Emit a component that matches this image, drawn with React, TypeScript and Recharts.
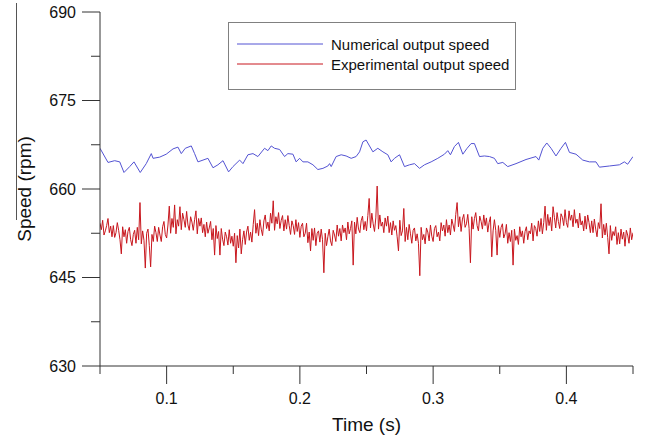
import { LineChart, Line, XAxis, YAxis, Legend } from "recharts";

// numerical model output
const numTime = [
  0.05, 0.056, 0.061, 0.0648, 0.068, 0.0723, 0.0755, 0.0802, 0.0847, 0.0885, 0.0898, 0.0948, 0.0997,
  0.1048, 0.1085, 0.111, 0.114, 0.1185, 0.121, 0.1235, 0.1273, 0.131, 0.1348, 0.1385, 0.1423, 0.1465,
  0.1498, 0.1548, 0.1573, 0.161, 0.1648, 0.1685, 0.1735, 0.176, 0.1785, 0.181, 0.1848, 0.1885, 0.191,
  0.1948, 0.1972, 0.1998, 0.2023, 0.206, 0.2098, 0.2135, 0.2173, 0.221, 0.2223, 0.2235, 0.2272, 0.231,
  0.2347, 0.2385, 0.2422, 0.2448, 0.2473, 0.2497, 0.2548, 0.2585, 0.2623, 0.266, 0.2685, 0.271, 0.2748,
  0.2785, 0.2823, 0.286, 0.2898, 0.2935, 0.2985, 0.3035, 0.3085, 0.311, 0.313, 0.316, 0.319, 0.3223,
  0.3255, 0.3285, 0.331, 0.3348, 0.3385, 0.3423, 0.346, 0.3485, 0.3523, 0.356, 0.3622, 0.3697, 0.3772,
  0.3793, 0.3823, 0.3853, 0.3885, 0.3922, 0.396, 0.3993, 0.4023, 0.4072, 0.4123, 0.4173, 0.4222, 0.4248,
  0.4323, 0.4398, 0.4435, 0.446, 0.45,
];
const numSpeed = [
  666.9, 664.5, 664.8, 664.6, 662.8, 663.8, 664.6, 662.8, 664.3, 666.0, 665.2, 665.4, 665.9,
  666.8, 667.1, 666.0, 666.9, 667.3, 666.0, 664.6, 664.9, 665.2, 663.6, 664.1, 664.8, 662.9,
  663.8, 664.9, 664.3, 665.8, 666.0, 665.5, 666.9, 666.5, 667.3, 666.9, 666.7, 665.5, 666.0,
  665.9, 664.6, 665.2, 664.6, 664.6, 664.1, 663.3, 663.5, 663.9, 664.3, 663.8, 665.5, 665.8,
  665.6, 665.2, 665.5, 666.3, 668.0, 668.3, 666.3, 666.9, 666.3, 665.8, 664.6, 665.2, 665.8,
  663.8, 664.1, 664.3, 663.5, 664.1, 664.6, 665.2, 665.9, 666.5, 665.8, 667.2, 667.9, 665.9,
  666.9, 667.7, 667.7, 665.5, 665.6, 665.5, 665.2, 664.3, 664.5, 663.8, 664.3, 665.0, 665.5,
  664.9, 666.9, 667.8, 666.9, 665.6, 666.9, 667.9, 666.2, 665.9, 664.9, 664.6, 664.6, 663.7,
  663.9, 664.1, 664.6, 664.2, 665.5,
];

// measured speed, sampled every 1 ms from 0.05 s
const EXP_START = 0.05;
const EXP_STEP = 0.001;
const expSpeed = [
  654.2, 653.1, 654.7, 652.2, 652.9, 653.8, 655.0, 652.6, 653.7, 651.9,
  653.8, 651.8, 652.6, 654.3, 653.0, 651.4, 649.0, 653.6, 651.9, 653.1,
  650.8, 652.8, 653.5, 651.4, 650.4, 652.3, 653.0, 650.8, 653.5, 651.4,
  657.7, 650.7, 652.9, 651.3, 646.6, 652.5, 653.2, 650.4, 646.8, 652.3,
  651.1, 653.7, 652.6, 651.1, 653.5, 652.2, 651.1, 653.6, 654.5, 652.3,
  651.7, 653.9, 657.1, 652.5, 655.0, 653.5, 657.3, 652.4, 654.8, 653.7,
  657.0, 653.1, 655.9, 654.8, 653.5, 656.2, 653.9, 653.0, 655.3, 654.4,
  653.0, 654.8, 656.3, 652.4, 655.0, 653.7, 655.1, 652.6, 654.0, 651.9,
  654.4, 652.5, 653.4, 654.5, 651.4, 653.3, 648.8, 653.8, 651.6, 652.8,
  648.8, 653.3, 651.5, 650.4, 652.7, 651.9, 650.5, 653.1, 650.8, 652.0,
  650.3, 652.5, 647.5, 652.1, 650.0, 653.2, 649.0, 651.4, 652.9, 650.6,
  652.7, 653.7, 651.3, 652.7, 651.0, 654.0, 656.5, 652.5, 654.2, 652.1,
  654.8, 653.2, 652.1, 654.6, 655.6, 653.3, 654.4, 652.9, 655.9, 654.2,
  658.0, 653.0, 655.3, 654.1, 656.0, 653.3, 654.7, 655.5, 652.9, 654.8,
  653.2, 655.5, 653.8, 652.3, 654.6, 653.8, 652.3, 654.8, 652.8, 654.3,
  651.8, 653.7, 654.2, 651.9, 652.5, 654.2, 650.9, 652.7, 649.5, 653.3,
  651.3, 653.4, 650.4, 652.5, 652.9, 651.0, 653.2, 651.4, 645.8, 652.5,
  650.4, 651.9, 653.2, 651.2, 650.4, 653.0, 652.2, 651.1, 653.9, 652.0,
  653.3, 651.2, 653.9, 652.6, 653.4, 651.4, 654.4, 652.4, 653.3, 654.6,
  647.1, 654.4, 652.4, 655.2, 653.2, 652.6, 654.6, 655.4, 653.1, 654.5,
  652.9, 655.5, 658.4, 653.4, 655.9, 654.1, 652.8, 655.1, 660.5, 653.2,
  655.6, 653.7, 654.4, 652.6, 655.1, 653.7, 655.4, 652.6, 654.3, 652.2,
  654.6, 653.0, 653.8, 651.9, 649.5, 654.7, 652.1, 652.9, 656.7, 651.1,
  653.5, 651.4, 654.0, 652.4, 650.8, 653.0, 653.4, 651.2, 652.4, 650.8,
  645.3, 653.5, 651.4, 652.3, 650.7, 653.4, 652.7, 651.2, 653.9, 652.0,
  651.1, 653.3, 653.8, 651.9, 652.7, 651.2, 654.3, 652.9, 653.9, 652.0,
  654.8, 652.6, 653.9, 652.2, 654.9, 653.9, 652.8, 655.7, 657.7, 653.6,
  655.3, 652.8, 654.9, 655.7, 653.5, 654.1, 655.7, 653.3, 647.5, 655.3,
  653.2, 655.0, 656.0, 653.8, 652.9, 655.4, 654.5, 653.2, 655.6, 653.8,
  655.1, 652.7, 654.3, 655.3, 648.5, 652.9, 654.8, 653.0, 648.8, 653.8,
  651.8, 653.5, 654.1, 651.7, 652.4, 654.0, 650.8, 652.6, 651.1, 653.0,
  647.1, 653.2, 651.3, 652.1, 650.6, 653.6, 651.9, 652.9, 650.8, 652.8,
  653.6, 651.4, 652.9, 652.4, 654.2, 651.2, 653.8, 653.3, 652.0, 654.6,
  652.8, 655.0, 652.4, 654.3, 657.1, 653.0, 655.7, 653.8, 655.2, 652.9,
  657.0, 655.2, 653.4, 656.0, 654.5, 653.3, 655.8, 655.2, 653.8, 656.5,
  654.3, 653.5, 656.3, 654.7, 655.6, 653.6, 656.5, 654.2, 654.9, 653.4,
  655.9, 653.9, 654.6, 652.9, 655.4, 653.2, 655.6, 654.3, 652.6, 654.6,
  652.6, 654.9, 653.2, 651.9, 654.3, 653.3, 657.5, 651.7, 654.0, 652.2,
  654.2, 651.8, 649.0, 653.8, 651.3, 652.8, 652.1, 653.6, 650.6, 652.6,
  650.7, 653.2, 651.5, 652.7, 650.3, 653.0, 652.2, 650.8, 653.4, 651.4,
  652.6,
];

const seriesNames = ["Numerical output speed", "Experimental output speed"];
const xTicks = [0.05, 0.1, 0.15, 0.2, 0.25, 0.3, 0.35, 0.4, 0.45];
const xLabelled = [0.1, 0.2, 0.3, 0.4];
const yTicks = [630, 637.5, 645, 652.5, 660, 667.5, 675, 682.5, 690];
const yLabelled = [630, 645, 660, 675, 690];

const numData = numTime.map((t, i) => ({ t, v: numSpeed[i] }));
const expData = expSpeed.map((v, i) => ({ t: +(EXP_START + i * EXP_STEP).toFixed(4), v }));

const FONT = "'Liberation Sans', Arial, sans-serif";
const AXIS = "#333";
const BLUE = "#5353d3";
const RED = "#c8171e";

function YTick({ x, y, payload }: any) {
  const major = yLabelled.includes(payload.value);
  return (
    <g>
      <line x1={x + (major ? 6 : 15)} x2={x + 24} y1={y} y2={y} stroke={AXIS} />
      {major && (
        <text x={x} y={y} dy="0.36em" textAnchor="end" fontSize={16} fontFamily={FONT} fill="#111">
          {payload.value}
        </text>
      )}
    </g>
  );
}

function XTick({ x, y, payload }: any) {
  const major = xLabelled.includes(payload.value);
  return (
    <g>
      <line x1={x} x2={x} y1={y - 27} y2={y - (major ? 9 : 19)} stroke={AXIS} />
      {major && (
        <text x={x} y={y} dy="0.71em" textAnchor="middle" fontSize={16} fontFamily={FONT} fill="#111">
          {payload.value}
        </text>
      )}
    </g>
  );
}

function SpeedLabel({ viewBox }: any) {
  const cx = viewBox.x + 31;
  const cy = viewBox.y + viewBox.height / 2;
  return (
    <g>
      <line x1={cx - 14.5} x2={cx - 14.5} y1={viewBox.y - 9} y2={cy + 31} stroke="#555" />
      <text x={cx} y={cy} transform={`rotate(-90 ${cx} ${cy})`} textAnchor="middle" fontSize={19} fontFamily={FONT} fill="#111">
        Speed (rpm)
      </text>
    </g>
  );
}

function LegendBox({ payload }: any) {
  const items = [...(payload || [])].sort(
    (a: any, b: any) => seriesNames.indexOf(a.value) - seriesNames.indexOf(b.value)
  );
  return (
    <div
      style={{
        width: 288,
        height: 68,
        boxSizing: "border-box",
        border: "1px solid #808080",
        background: "#fff",
        paddingTop: 11,
        paddingLeft: 8,
        fontFamily: FONT,
        fontSize: 15,
        color: "#111",
      }}
    >
      {items.map((p: any) => (
        <div key={p.value} style={{ display: "flex", alignItems: "center", height: 20 }}>
          <svg width={86} height={4} style={{ marginRight: 8 }}>
            <line x1={0} x2={86} y1={2} y2={2} stroke={p.color} strokeWidth={1} />
          </svg>
          <span>{p.value}</span>
        </div>
      ))}
    </div>
  );
}

export default function App() {
  return (
    <div style={{ position: "absolute", left: 0, top: 0, width: 646, height: 439, background: "#fff" }}>
      <LineChart width={646} height={439} margin={{ top: 12, right: 13, bottom: 0, left: 0 }}>
        <XAxis
          type="number"
          dataKey="t"
          domain={[0.05, 0.45]}
          ticks={xTicks}
          interval={0}
          allowDataOverflow
          height={73}
          tickSize={18}
          tickMargin={9}
          tickLine={false}
          tick={<XTick />}
          axisLine={{ stroke: AXIS }}
          label={{ value: "Time (s)", position: "insideBottom", offset: 8, fontSize: 19, fontFamily: FONT, fill: "#111" }}
        />
        <YAxis
          type="number"
          domain={[630, 690]}
          ticks={yTicks}
          interval={0}
          allowDataOverflow
          width={100}
          tickSize={18}
          tickMargin={6}
          tickLine={false}
          tick={<YTick />}
          axisLine={{ stroke: AXIS }}
          label={<SpeedLabel />}
        />
        <Legend
          layout="horizontal"
          verticalAlign="middle"
          align="center"
          content={<LegendBox />}
          wrapperStyle={{ left: 228, top: 22, width: 288, height: 68 }}
        />
        <Line
          data={numData}
          dataKey="v"
          name={seriesNames[0]}
          type="linear"
          stroke={BLUE}
          strokeWidth={1}
          dot={false}
          isAnimationActive={false}
        />
        <Line
          data={expData}
          dataKey="v"
          name={seriesNames[1]}
          type="linear"
          stroke={RED}
          strokeWidth={1}
          dot={false}
          isAnimationActive={false}
        />
      </LineChart>
    </div>
  );
}
